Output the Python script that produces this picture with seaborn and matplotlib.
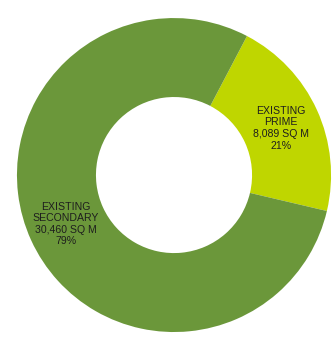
import matplotlib
matplotlib.use("Agg")
import matplotlib.pyplot as plt
import seaborn as sns

categories = ["EXISTING\nPRIME", "EXISTING\nSECONDARY"]
areas = [8089, 30460]
area_labels = ["8,089 SQ M", "30,460 SQ M"]
percent_labels = ["21%", "79%"]
colors = ["#bfd600", "#6b973a"]

sns.set_style("white")
plt.rcParams['font.family'] = ['Liberation Sans', 'DejaVu Sans']

fig = plt.figure(figsize=(3.32, 3.38), dpi=100)
ax = fig.add_axes([0, 0, 1, 1])
wedges, _ = ax.pie(areas, colors=colors, startangle=62.3, counterclock=False,
                   radius=1.0, wedgeprops=dict(width=0.503, edgecolor='none'))

label_pos = [(0.682, 0.299), (-0.688, -0.312)]
for cat, al, pl, (x, y) in zip(categories, area_labels, percent_labels, label_pos):
    ax.text(x, y, f"{cat}\n{al}\n{pl}", ha='center', va='center',
            fontsize=7.6, color='#1e1e1e', linespacing=1.2)

ax.set_xlim(-1.108, 1.006)
ax.set_ylim(-1.038, 1.115)
ax.set_aspect('auto')
ax.axis('off')
fig.savefig("out.png", dpi=100)
